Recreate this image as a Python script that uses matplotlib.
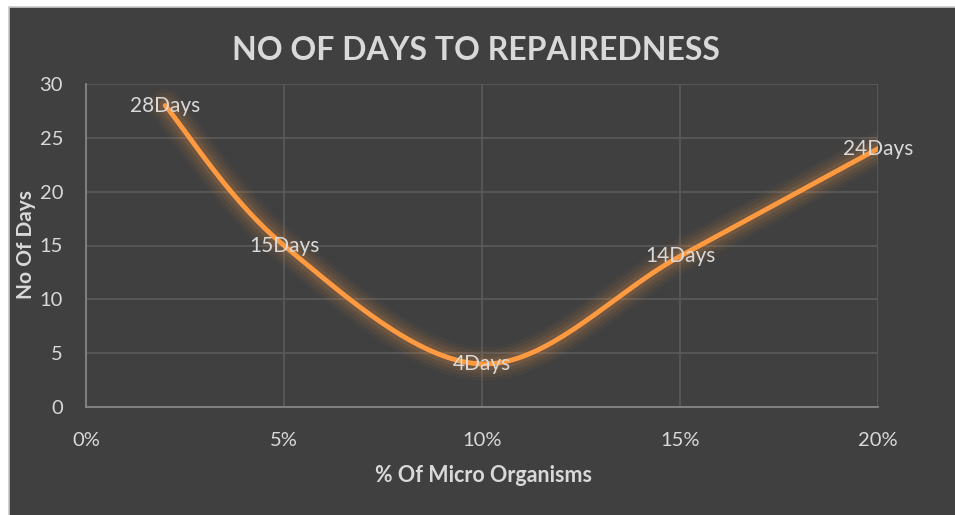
import numpy as np
import matplotlib
matplotlib.use("Agg")
import matplotlib.pyplot as plt
from matplotlib.patches import Rectangle
from matplotlib.ticker import FuncFormatter

# data
pct_organisms = [0.02, 0.05, 0.10, 0.15, 0.20]
days = [28, 15, 4, 14, 24]
day_labels = ["28Days", "15Days", "4Days", "14Days", "24Days"]
x_ticks = [0.0, 0.05, 0.10, 0.15, 0.20]
y_ticks = [0, 5, 10, 15, 20, 25, 30]

BG = "#404040"
GRID = "#595959"
SPINE = "#858585"
TEXT = "#d9d9d9"
LINE = "#ff9a40"

plt.rcParams['font.family'] = ['Lato', 'DejaVu Sans']


def smooth(xs, ys, sx, sy, n=40):
    # excel-like smoothed line (catmull-rom bezier), done in screen-ish units
    px = np.array(xs) * sx
    py = np.array(ys) * sy
    P = np.column_stack([px, py])
    P = np.vstack([P[0], P, P[-1]])
    out = []
    t = np.linspace(0, 1, n)
    for i in range(1, len(P) - 2):
        p0, p1, p2, p3 = P[i - 1], P[i], P[i + 1], P[i + 2]
        c1 = p1 + (p2 - p0) / 6
        c2 = p2 - (p3 - p1) / 6
        seg = ((1 - t) ** 3)[:, None] * p1 + (3 * (1 - t) ** 2 * t)[:, None] * c1 \
            + (3 * (1 - t) * t ** 2)[:, None] * c2 + (t ** 3)[:, None] * p2
        out.append(seg)
    out = np.vstack(out)
    return out[:, 0] / sx, out[:, 1] / sy


fig = plt.figure(figsize=(9.55, 5.15), dpi=100)
fig.patch.set_facecolor("white")
fig.patches.append(Rectangle((9 / 955, -0.05), 1.1, 1.05 - 7 / 515, transform=fig.transFigure,
                             facecolor=BG, edgecolor="#c8c8c8", linewidth=1.2, zorder=-10))

ax = fig.add_axes([86 / 955, 1 - 407 / 515, 792 / 955, 323 / 515])
ax.set_facecolor(BG)
ax.set_xlim(0, 0.2)
ax.set_ylim(0, 30)
ax.set_xticks(x_ticks)
ax.set_yticks(y_ticks)
ax.xaxis.set_major_formatter(FuncFormatter(lambda v, p: f"{v * 100:.0f}%"))
ax.grid(True, color=GRID, linewidth=1.3)
ax.set_axisbelow(True)
for s in ["top", "right"]:
    ax.spines[s].set_visible(False)
for s in ["left", "bottom"]:
    ax.spines[s].set_color(SPINE)
    ax.spines[s].set_linewidth(1.3)
ax.tick_params(length=0, colors=TEXT, labelsize=14.5)
ax.tick_params(axis="y", pad=16.5)
ax.tick_params(axis="x", pad=18)

sx, sy = 792 / 0.2, 323 / 30
cx, cy = smooth(pct_organisms, days, sx, sy)
for lw, a in [(24, 0.04), (19, 0.06), (14, 0.08), (9, 0.11)]:
    ax.plot(cx, cy, color=LINE, linewidth=lw, alpha=a, solid_capstyle="round", zorder=2)
ax.plot(cx, cy, color=LINE, linewidth=3.5, solid_capstyle="round", zorder=3)

for x, y, lab in zip(pct_organisms, days, day_labels):
    ax.text(x, y, lab, color=TEXT, fontsize=15, ha="center", va="center", zorder=4, clip_on=False)

fig.text(483 / 955, 1 - 476 / 515, "% Of Micro Organisms", color=TEXT, fontsize=15.5,
         fontweight="bold", ha="center", va="center")
fig.text(26 / 955, 1 - 245 / 515, "No Of Days", color=TEXT, fontsize=15,
         fontweight="bold", ha="center", va="center", rotation=90)
fig.text(476 / 955, 1 - 50 / 515, "NO OF DAYS TO REPAIREDNESS", color=TEXT, fontsize=23,
         fontweight="bold", ha="center", va="center")

fig.savefig("out.png", dpi=100, facecolor=fig.get_facecolor())
